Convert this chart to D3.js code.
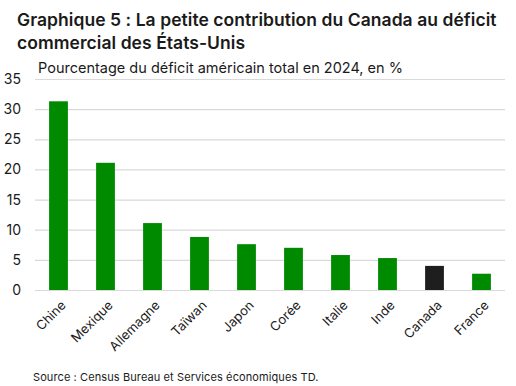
<!DOCTYPE html>
<html>
<head>
<meta charset="utf-8">
<script src="https://cdn.jsdelivr.net/npm/d3@7"></script>
<style>
  body { margin: 0; background: #fff; }
  svg { font-family: "Inter", "Lato", sans-serif; }
</style>
</head>
<body>
<div id="chart"></div>
<script>
var pays = ["Chine", "Mexique", "Allemagne", "Taïwan", "Japon", "Corée", "Italie", "Inde", "Canada", "France"];
var parts = [31.3, 21.1, 11.1, 8.8, 7.6, 7.0, 5.8, 5.3, 4.0, 2.7];
var yTicks = [0, 5, 10, 15, 20, 25, 30, 35];

var W = 516, H = 386;
var margin = {top: 79, right: 11, bottom: 96, left: 35};
var width = W - margin.left - margin.right,
    height = H - margin.top - margin.bottom;

var svg = d3.select("#chart").append("svg")
    .attr("width", W)
    .attr("height", H);

// titre
svg.append("text")
    .attr("x", 17).attr("y", 26)
    .attr("font-size", 17.5).attr("font-weight", 600).attr("fill", "#1a1a1a")
    .attr("letter-spacing", 0.05)
    .text("Graphique 5 : La petite contribution du Canada au déficit");
svg.append("text")
    .attr("x", 17).attr("y", 49)
    .attr("font-size", 17.5).attr("font-weight", 600).attr("fill", "#1a1a1a")
    .attr("letter-spacing", 0.05)
    .text("commercial des États-Unis");
svg.append("text")
    .attr("x", 38).attr("y", 73)
    .attr("font-size", 14.5).attr("fill", "#1a1a1a")
    .text("Pourcentage du déficit américain total en 2024, en %");

var g = svg.append("g")
    .attr("transform", "translate(" + margin.left + "," + margin.top + ")");

var x = d3.scaleBand()
    .domain(pays)
    .range([0, width])
    .paddingInner(0.6)
    .paddingOuter(0.3);
var y = d3.scaleLinear()
    .domain([0, 35])
    .range([height, 0]);

// grille
g.append("g")
  .call(d3.axisLeft(y).tickValues(yTicks).tickSize(-width).tickFormat(d3.format("d")))
  .call(function(a) {
    a.select(".domain").remove();
    a.selectAll(".tick line").attr("stroke", "#d9d9d9").attr("stroke-width", 1.2);
    a.selectAll(".tick text").attr("x", -14).attr("font-size", 14).attr("fill", "#1a1a1a")
      .attr("font-family", "Inter, Lato, sans-serif");
  });

g.selectAll(".bar")
    .data(pays)
  .enter().append("rect")
    .attr("class", "bar")
    .attr("x", function(d) { return x(d); })
    .attr("width", x.bandwidth())
    .attr("y", function(d, i) { return y(parts[i]); })
    .attr("height", function(d, i) { return height - y(parts[i]); })
    .attr("fill", function(d) { return d == "Canada" ? "#1e1e1e" : "#008a00"; });

// étiquettes x
g.append("g")
    .attr("transform", "translate(0," + height + ")")
  .call(d3.axisBottom(x).tickSize(0))
  .call(function(a) {
    a.select(".domain").remove();
    a.selectAll(".tick text")
      .attr("font-size", 13).attr("fill", "#1a1a1a")
      .attr("font-family", "Inter, Lato, sans-serif")
      .attr("text-anchor", "end")
      .attr("dy", 0)
      .attr("transform", "translate(6,14) rotate(-45)");
  });

svg.append("text")
    .attr("x", 33).attr("y", 381)
    .attr("font-size", 11).attr("fill", "#1a1a1a")
    .attr("letter-spacing", 0.1)
    .text("Source : Census Bureau et Services économiques TD.");
</script>
</body>
</html>
